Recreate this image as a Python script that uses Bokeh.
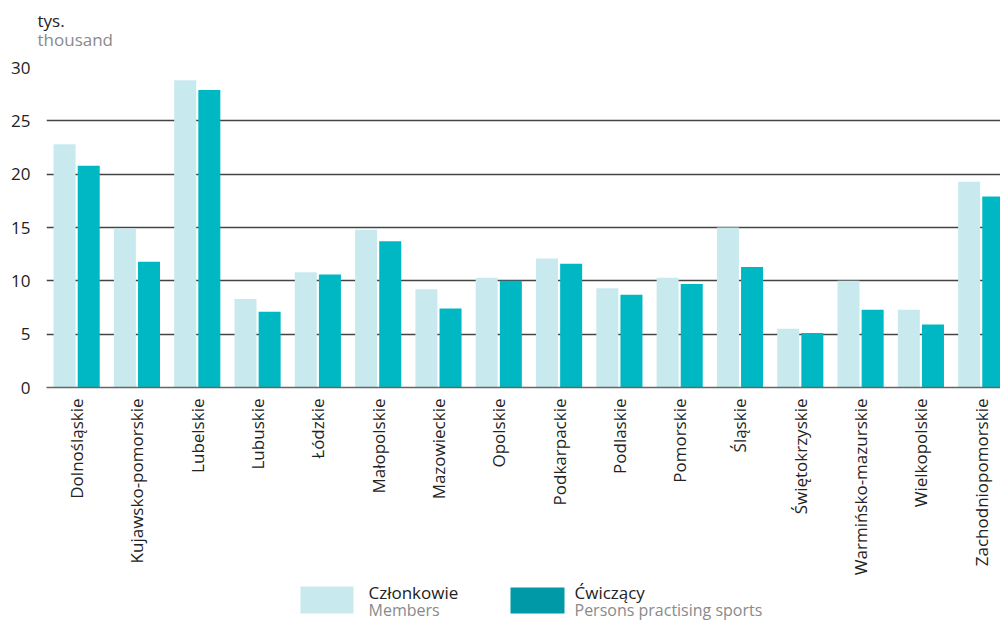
import math
from bokeh.plotting import figure
from bokeh.models import ColumnDataSource, Range1d, Title, FixedTicker
from bokeh.layouts import column
from bokeh.embed import file_html
from bokeh.resources import INLINE
from bokeh.core.properties import value

regions = ["Dolnośląskie", "Kujawsko-pomorskie", "Lubelskie", "Lubuskie", "Łódzkie",
           "Małopolskie", "Mazowieckie", "Opolskie", "Podkarpackie", "Podlaskie",
           "Pomorskie", "Śląskie", "Świętokrzyskie", "Warmińsko-mazurskie",
           "Wielkopolskie", "Zachodniopomorskie"]
members = [22.8, 14.9, 28.8, 8.3, 10.8, 14.8, 9.2, 10.3, 12.1, 9.3,
           10.3, 15.0, 5.5, 10.0, 7.3, 19.3]
practising = [20.8, 11.8, 27.9, 7.1, 10.6, 13.7, 7.4, 10.0, 11.6, 8.7,
              9.7, 11.3, 5.1, 7.3, 5.9, 17.9]
y_ticks = [0, 5, 10, 15, 20, 25, 30]

FONT = "Open Sans"
LIGHT = "#C8EAEE"
DARK = "#00B8C3"
DARK_LEG = "#0099A7"
TXT = "#222222"
GREY = "#8A8A8A"

centers = [i + 0.5 for i in range(len(regions))]
src = ColumnDataSource(dict(
    xm=[c - 0.2 for c in centers], xp=[c + 0.2 for c in centers],
    members=members, practising=practising))

p = figure(x_range=Range1d(0, 15.82), y_range=Range1d(0, 30),
           width=1000, height=578, output_backend="svg", toolbar_location=None,
           min_border_left=46, min_border_right=0, min_border_top=67,
           min_border_bottom=190)
p.outline_line_color = None

p.vbar(x="xm", top="members", width=0.365, source=src, fill_color=LIGHT, line_color=None)
p.vbar(x="xp", top="practising", width=0.365, source=src, fill_color=DARK, line_color=None)

p.xgrid.grid_line_color = None
p.ygrid.grid_line_color = "#444444"
p.ygrid.grid_line_width = 1.3
p.yaxis.ticker = FixedTicker(ticks=y_ticks)

p.yaxis.axis_line_color = None
p.yaxis.major_tick_line_color = None
p.yaxis.minor_tick_line_color = None
p.yaxis.major_label_text_font = FONT
p.yaxis.major_label_text_font_size = "17px"
p.yaxis.major_label_text_color = TXT
p.yaxis.major_label_standoff = 10

p.xaxis.ticker = FixedTicker(ticks=centers)
p.xaxis.major_label_overrides = {c: r for c, r in zip(centers, regions)}
p.xaxis.axis_line_color = "#666666"
p.xaxis.axis_line_width = 1.5
p.xaxis.major_tick_line_color = None
p.xaxis.minor_tick_line_color = None
p.xaxis.major_tick_out = 0
p.xaxis.major_tick_in = 0
p.xaxis.axis_label_standoff = 0
p.xaxis.major_label_orientation = math.pi / 2
p.xaxis.major_label_text_font = FONT
p.xaxis.major_label_text_font_size = "17px"
p.xaxis.major_label_text_color = TXT
p.xaxis.major_label_standoff = 11

p.add_layout(Title(text="thousand", align="left", offset=-9, standoff=34,
                   text_font=FONT, text_font_size="17px", text_font_style="normal",
                   text_color=GREY), "above")
p.add_layout(Title(text="tys.", align="left", offset=-9, standoff=-46,
                   text_font=FONT, text_font_size="17px", text_font_style="normal",
                   text_color=TXT), "above")

# legend strip (coordinates in page pixels)
leg = figure(width=1000, height=44, x_range=Range1d(46, 1000), y_range=Range1d(622, 578),
             x_axis_type=None, y_axis_type=None, output_backend="svg",
             toolbar_location=None, min_border=0, min_border_left=46)
leg.outline_line_color = None
leg.grid.visible = False
leg.quad(left=[300], right=[353], top=[586], bottom=[613], fill_color=LIGHT, line_color=None)
leg.quad(left=[510], right=[564], top=[587], bottom=[613], fill_color=DARK_LEG, line_color=None)
leg.text(x=[368, 574], y=[592, 592], text=["Członkowie", "Ćwiczący"],
         text_font=value(FONT), text_font_size="17px", text_color=TXT,
         text_baseline="alphabetic")
leg.text(x=[368, 574], y=[609, 609], text=["Members", "Persons practising sports"],
         text_font=value(FONT), text_font_size="16px", text_color=GREY,
         text_baseline="alphabetic")

layout = column(p, leg, spacing=0)
open("out.html", "w").write(file_html(layout, INLINE))
